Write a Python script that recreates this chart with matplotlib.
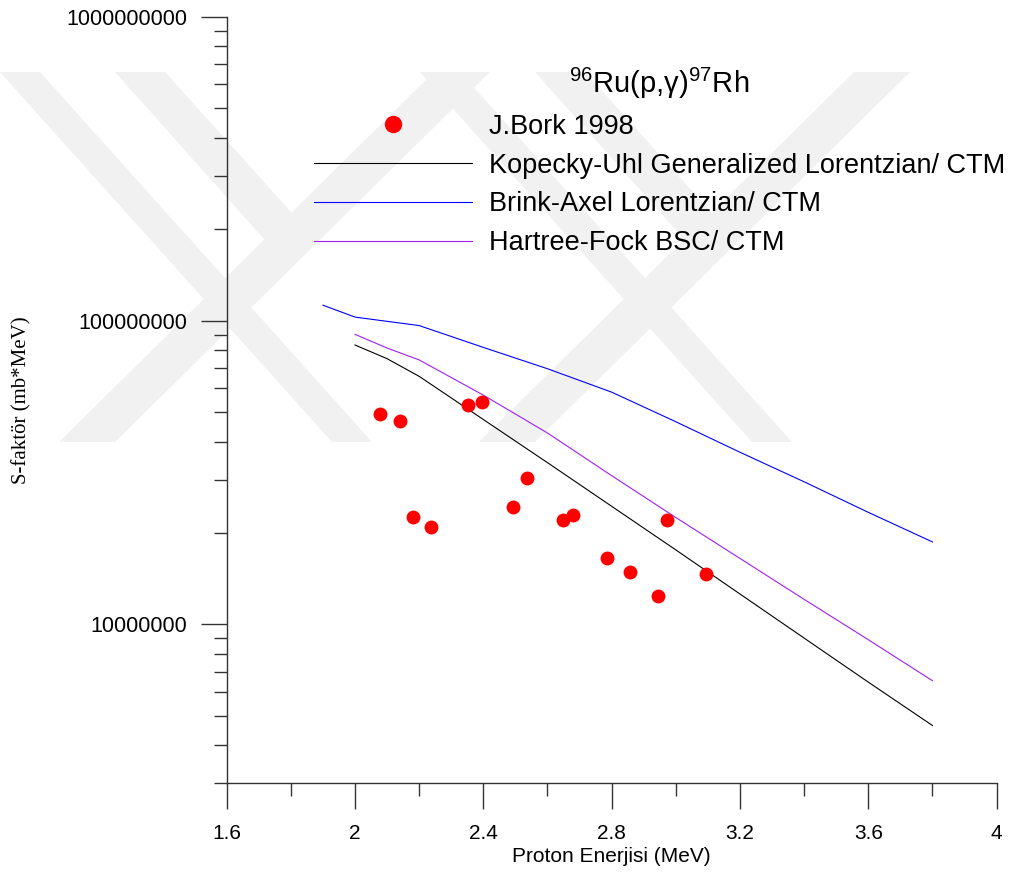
import matplotlib
matplotlib.use("Agg")
import matplotlib.pyplot as plt
from matplotlib.lines import Line2D
from matplotlib.patches import Polygon
from matplotlib.ticker import FixedLocator, FuncFormatter, LogLocator, NullFormatter

plt.rcParams['font.family'] = ['Liberation Sans', 'DejaVu Sans']
plt.rcParams['mathtext.fontset'] = 'custom'
plt.rcParams['mathtext.rm'] = 'Liberation Sans'
plt.rcParams['mathtext.it'] = 'Liberation Sans:italic'

# ---------------- data ----------------
exp_x = [2.079, 2.139, 2.182, 2.237, 2.351, 2.395, 2.493, 2.537, 2.649, 2.679,
         2.786, 2.857, 2.945, 2.973, 3.094]
exp_y = [4.94e7, 4.68e7, 2.26e7, 2.10e7, 5.27e7, 5.39e7, 2.44e7, 3.04e7, 2.21e7, 2.29e7,
         1.65e7, 1.49e7, 1.24e7, 2.20e7, 1.47e7]

ku_x = [2.0, 2.1, 2.2, 2.4, 2.6, 2.8, 3.0, 3.2, 3.4, 3.6, 3.8]
ku_y = [8.32e7, 7.50e7, 6.56e7, 4.73e7, 3.41e7, 2.45e7, 1.76e7, 1.26e7, 9.02e6, 6.46e6, 4.65e6]

ba_x = [1.9, 2.0, 2.2, 2.4, 2.6, 2.8, 3.0, 3.2, 3.4, 3.6, 3.8]
ba_y = [1.125e8, 1.028e8, 9.64e7, 8.17e7, 6.95e7, 5.82e7, 4.65e7, 3.69e7, 2.95e7, 2.34e7, 1.87e7]

hf_x = [2.0, 2.1, 2.2, 2.4, 2.6, 2.8, 3.0, 3.2, 3.4, 3.6, 3.8]
hf_y = [9.02e7, 8.13e7, 7.43e7, 5.69e7, 4.27e7, 3.09e7, 2.25e7, 1.65e7, 1.21e7, 8.91e6, 6.53e6]

labels = ["J.Bork 1998",
          "Kopecky-Uhl Generalized Lorentzian/ CTM",
          "Brink-Axel Lorentzian/ CTM",
          "Hartree-Fock BSC/ CTM"]
legend_title = r"$^{96}$Ru(p,γ)$^{97}$Rh"
x_major = [1.6, 2.0, 2.4, 2.8, 3.2, 3.6, 4.0]
x_minor = [1.8, 2.2, 2.6, 3.0, 3.4, 3.8]
x_label = "Proton Enerjisi (MeV)"
y_label = "S-faktör (mb*MeV)"

W, H = 1016, 877
fig = plt.figure(figsize=(W / 100, H / 100), dpi=100)
fig.patch.set_facecolor('white')

# ---------------- background watermark (decorative) ----------------
def px(pts):
    return [(x / W, 1 - y / H) for x, y in pts]

wm_color = '#f1f1f1'
for off in (0, 420):
    bandA = [(0 + off, 72), (40 + off, 72), (372 + off, 442), (332 + off, 442)]
    bandC = [(59 + off, 442), (115 + off, 442), (490 + off, 72), (434 + off, 72)]
    bandB = [(115 + off, 72), (165 + off, 72), (300 + off, 222), (272 + off, 248)]
    for poly in (bandA, bandC, bandB):
        fig.patches.append(Polygon(px(poly), closed=True, transform=fig.transFigure,
                                   facecolor=wm_color, edgecolor='none', zorder=-5))

# ---------------- axes ----------------
ax_left, ax_right = 226.7, 996.6
ax_top, ax_bottom = 17.0, 783.3
ax = fig.add_axes([ax_left / W, 1 - ax_bottom / H,
                   (ax_right - ax_left) / W, (ax_bottom - ax_top) / H])
ax.patch.set_visible(False)

ax.set_yscale('log')
ax.set_xlim(1.6, 4.0)
ax.set_ylim(3e6, 1e9)

ax.plot(ku_x, ku_y, color='black', lw=0.8, zorder=3)
ax.plot(ba_x, ba_y, color='#0000ff', lw=0.8, zorder=3)
ax.plot(hf_x, hf_y, color='#a020f0', lw=0.8, zorder=3)
ax.plot(exp_x, exp_y, linestyle='none', marker='o', markersize=10,
        color='#ff0000', markeredgewidth=0, zorder=4)

for s in ('top', 'right'):
    ax.spines[s].set_visible(False)
for s in ('left', 'bottom'):
    ax.spines[s].set_color('#333333')
    ax.spines[s].set_linewidth(1.0)

ax.xaxis.set_major_locator(FixedLocator(x_major))
ax.xaxis.set_minor_locator(FixedLocator(x_minor))
ax.xaxis.set_major_formatter(FuncFormatter(lambda v, p: f"{v:g}"))
ax.yaxis.set_major_locator(LogLocator(base=10, numticks=20))
ax.yaxis.set_minor_locator(LogLocator(base=10, subs=[2, 3, 4, 5, 6, 7, 8, 9], numticks=20))
ax.yaxis.set_major_formatter(FuncFormatter(lambda v, p: f"{int(round(v))}"))
ax.yaxis.set_minor_formatter(NullFormatter())

ax.tick_params(axis='both', which='major', direction='out', length=18.5, width=1.0,
               color='#333333')
ax.tick_params(axis='both', which='minor', direction='out', length=9.5, width=1.0,
               color='#333333')
ax.tick_params(axis='y', which='major', labelsize=15.5, pad=10)
ax.tick_params(axis='x', which='major', labelsize=15, pad=11)

ax.set_xlabel(x_label, fontsize=15, labelpad=3)
ax.set_ylabel(y_label, fontsize=15, family=['Liberation Serif', 'DejaVu Serif'])
ax.yaxis.set_label_coords((31 - ax_left) / (ax_right - ax_left), 0.5)

# ---------------- legend ----------------
handles = [
    Line2D([], [], linestyle='none', marker='o', markersize=12.5, color='#ff0000',
           markeredgewidth=0),
    Line2D([], [], color='black', lw=0.8),
    Line2D([], [], color='#0000ff', lw=0.8),
    Line2D([], [], color='#a020f0', lw=0.8),
]
leg = ax.legend(handles, labels, title=legend_title, title_fontsize=21, fontsize=19.5,
                loc='upper left', bbox_to_anchor=(314 / W, 1 - 66 / H),
                bbox_transform=fig.transFigure, frameon=False, borderpad=0,
                borderaxespad=0, handlelength=5.85, handletextpad=0.6,
                labelspacing=0.47, numpoints=1)
leg._legend_box.align = 'center'

fig.savefig('out.png', dpi=100)
